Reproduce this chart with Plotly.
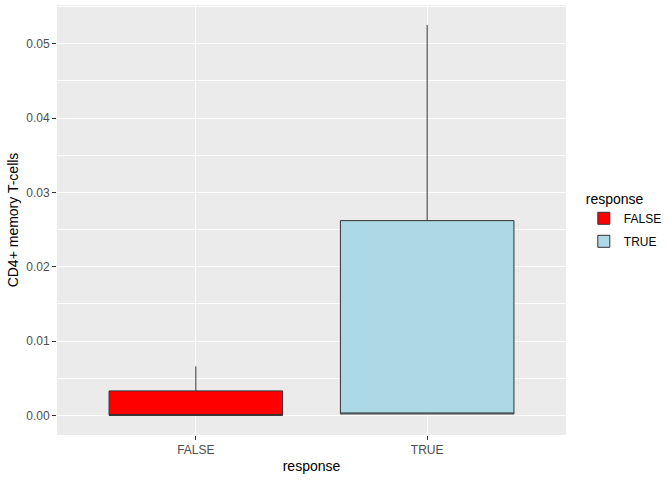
import plotly.graph_objects as go

groups = ["FALSE", "TRUE"]
colors = ["#FF0000", "#ADD8E6"]
lower = [0.0, 0.0002]
q1 = [0.0, 0.0002]
median = [0.0, 0.0002]
q3 = [0.0033, 0.0262]
upper = [0.0066, 0.0525]

fig = go.Figure()
for i, g in enumerate(groups):
    fig.add_trace(go.Box(
        name=g,
        x=[g],
        q1=[q1[i]], median=[median[i]], q3=[q3[i]],
        lowerfence=[lower[i]], upperfence=[upper[i]],
        fillcolor=colors[i],
        line=dict(color="#333333", width=1),
        whiskerwidth=0,
        width=0.75,
        boxpoints=False,
        legendgroup=g,
    ))

fig.update_layout(
    width=672, height=480,
    margin=dict(l=57, r=104, t=5, b=45),
    paper_bgcolor="white",
    plot_bgcolor="#EBEBEB",
    font=dict(family="Liberation Sans, Arial, sans-serif", size=12, color="#000000"),
    boxmode="overlay",
    legend=dict(
        title=dict(text="response", font=dict(size=14)),
        font=dict(size=12),
        x=1.035, y=0.58, xanchor="left", yanchor="top",
        tracegroupgap=4,
        bgcolor="rgba(0,0,0,0)",
    ),
)
fig.update_xaxes(
    title=dict(text="response", font=dict(size=14), standoff=4),
    type="category",
    categoryorder="array", categoryarray=groups,
    range=[-0.6, 1.6],
    showgrid=True, gridcolor="white", gridwidth=1.2,
    ticks="outside", ticklen=4, tickcolor="#333333",
    tickfont=dict(color="#4D4D4D", size=12),
    showline=False, zeroline=False,
)
fig.update_yaxes(
    title=dict(text="CD4+ memory T-cells", font=dict(size=14), standoff=4),
    range=[-0.00263, 0.0552],
    tickvals=[0, 0.01, 0.02, 0.03, 0.04, 0.05],
    ticktext=["0.00", "0.01", "0.02", "0.03", "0.04", "0.05"],
    showgrid=True, gridcolor="white", gridwidth=1.2,
    minor=dict(tickvals=[0.005, 0.015, 0.025, 0.035, 0.045, 0.055],
               showgrid=True, gridcolor="white", gridwidth=0.6),
    ticks="outside", ticklen=4, tickcolor="#333333",
    tickfont=dict(color="#4D4D4D", size=12),
    showline=False, zeroline=False,
)

# drop the default page margin so the figure sits at the window's corner
fig.write_html("out.html", config={"displayModeBar": False},
               post_script="document.body.style.margin='0';")
